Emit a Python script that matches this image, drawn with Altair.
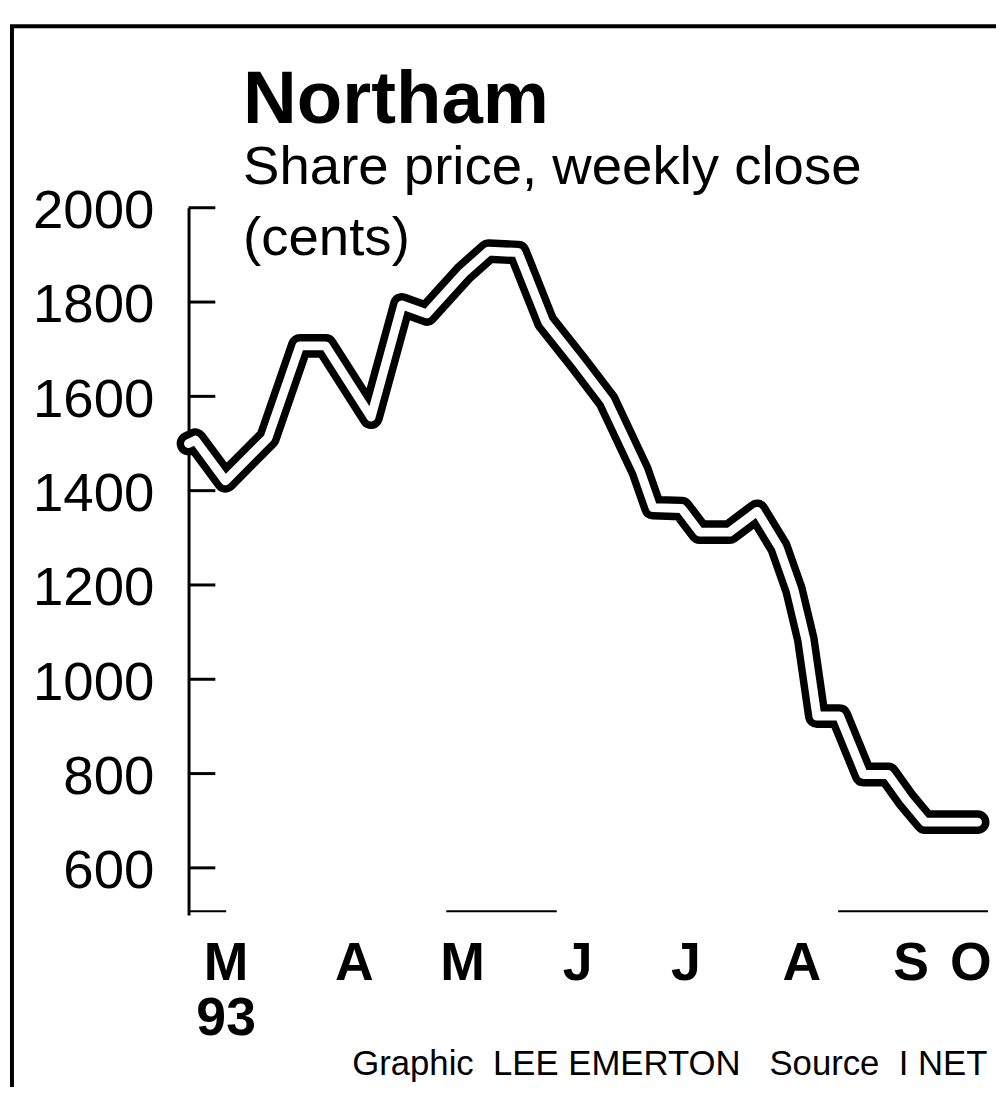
import altair as alt
import pandas as pd

# ---- data ----
weeks = [0.00, 0.26, 1.40, 3.02, 4.23, 5.21, 6.94, 8.11, 9.06, 10.49, 11.40, 12.53,
         13.58, 14.83, 15.92, 17.17, 17.66, 18.75, 19.43, 20.57, 21.62, 22.45, 23.02,
         23.47, 23.89, 24.75, 25.66, 26.60, 27.28, 28.00, 30.00]
prices = [1500, 1507, 1421, 1512, 1707, 1707, 1556, 1794, 1775, 1863, 1908, 1905,
          1758, 1670, 1590, 1442, 1364, 1362, 1312, 1312, 1356, 1280, 1190,
          1085, 922, 922, 798, 798, 745, 697, 697]

y_ticks = [600, 800, 1000, 1200, 1400, 1600, 1800, 2000]
month_labels = ["M", "A", "M", "J", "J", "A", "S", "O"]
month_pos = [1.43, 6.30, 10.42, 14.79, 18.91, 23.32, 27.47, 29.74]
year_labels = ["93"]
year_pos = [1.43]
base_start = [0.0, 9.8, 24.7]
base_end = [1.43, 14.0, 30.4]

title_text = ["Northam"]
sub1_text = ["Share price, weekly close"]
sub2_text = ["(cents)"]
credit_text = ["Graphic\u00a0\u00a0LEE EMERTON\u00a0\u00a0\u00a0Source\u00a0\u00a0I NET"]

W, H = 806, 713
FONT = "Liberation Sans"

xs = alt.Scale(domain=[0, 30.4], nice=False, zero=False)
ys = alt.Scale(domain=[500, 2000], nice=False, zero=False)

yaxis = alt.Axis(
    values=y_ticks, format="d", ticks=False, tickSize=0, grid=False, title=None,
    domain=True, domainColor="black", domainWidth=3,
    labelFont=FONT, labelFontSize=55, labelColor="black",
    labelPadding=35, labelBaseline="middle", labelOffset=3,
)

line_df = pd.DataFrame({"week": weeks, "price": prices})

outline = alt.Chart(line_df).mark_line(
    color="black", strokeWidth=24, strokeJoin="round", strokeCap="round"
).encode(
    x=alt.X("week:Q", scale=xs, axis=None),
    y=alt.Y("price:Q", scale=ys, axis=yaxis),
)
inner = alt.Chart(line_df).mark_line(
    color="white", strokeWidth=9, strokeJoin="round", strokeCap="round"
).encode(
    x=alt.X("week:Q", scale=xs, axis=None),
    y=alt.Y("price:Q", scale=ys, axis=yaxis),
)

ticks = alt.Chart(pd.DataFrame({"tick": y_ticks})).mark_rule(
    color="black", strokeWidth=3
).encode(
    y=alt.Y("tick:Q", scale=ys, axis=yaxis),
    x=alt.value(0), x2=alt.value(27),
)

segments = alt.Chart(pd.DataFrame({"s": base_start, "e": base_end})).mark_rule(
    color="black", strokeWidth=2
).encode(
    x=alt.X("s:Q", scale=xs, axis=None), x2="e:Q",
    y=alt.datum(508),
)

months = alt.Chart(pd.DataFrame({"pos": month_pos, "label": month_labels})).mark_text(
    font=FONT, fontWeight="bold", fontSize=54, baseline="middle", align="center", color="black"
).encode(
    x=alt.X("pos:Q", scale=xs, axis=None),
    y=alt.value(762),
    text="label:N",
)

year = alt.Chart(pd.DataFrame({"pos": year_pos, "label": year_labels})).mark_text(
    font=FONT, fontWeight="bold", fontSize=54, baseline="middle", align="center", color="black"
).encode(
    x=alt.X("pos:Q", scale=xs, axis=None),
    y=alt.value(818),
    text="label:N",
)

def label_layer(texts, size, weight, xv, yv):
    return alt.Chart(pd.DataFrame({"t": texts})).mark_text(
        font=FONT, fontSize=size, fontWeight=weight, align="left",
        baseline="alphabetic", color="black"
    ).encode(x=alt.value(xv), y=alt.value(yv), text="t:N")

title = label_layer(title_text, 75, "bold", 55, -85)
sub1 = label_layer(sub1_text, 55, "normal", 55, -24)
sub2 = label_layer(sub2_text, 55, "normal", 55, 48)
credit = label_layer(credit_text, 35, "normal", 165, 874)

frame = alt.Chart(pd.DataFrame({"f": [0]})).mark_rect(
    filled=False, stroke="black", strokeWidth=4
).encode(
    x=alt.value(-178), x2=alt.value(900),
    y=alt.value(-183), y2=alt.value(1000),
)

chart = alt.layer(
    frame, segments, ticks, outline, inner, months, year, title, sub1, sub2, credit
).properties(
    width=W, height=H,
    padding={"left": 182, "top": 197, "right": 8, "bottom": 169},
    autosize=alt.AutoSizeParams(type="none"),
    background="white",
).configure_view(stroke=None)

chart.save("out.html", embed_options={"renderer": "svg", "actions": False})
